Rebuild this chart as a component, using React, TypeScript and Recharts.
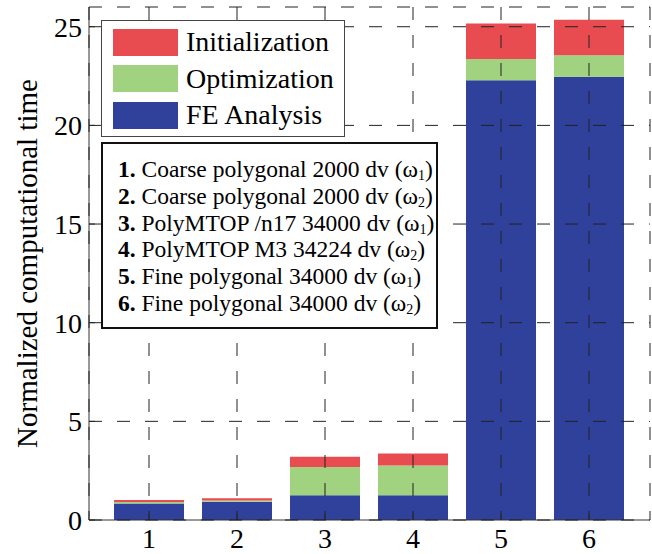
import { BarChart, Bar, XAxis, YAxis, CartesianGrid } from "recharts";

const runs = ["1", "2", "3", "4", "5", "6"];
const feAnalysis = [0.84, 0.92, 1.26, 1.26, 22.29, 22.46];
const optimization = [0.07, 0.07, 1.42, 1.5, 1.08, 1.09];
const initialization = [0.1, 0.11, 0.52, 0.61, 1.8, 1.8];
const yTicks = [0, 5, 10, 15, 20, 25];

const seriesNames = ["Initialization", "Optimization", "FE Analysis"];
const seriesColors = ["#e84c50", "#a0d27f", "#2f419b"];

const caseNames = [
  "Coarse polygonal 2000 dv",
  "Coarse polygonal 2000 dv",
  "PolyMTOP /n17 34000 dv",
  "PolyMTOP M3 34224 dv",
  "Fine polygonal 34000 dv",
  "Fine polygonal 34000 dv",
];
const caseDomains = ["1", "2", "1", "2", "1", "2"];

const data = runs.map((run, i) => ({
  run,
  fe: feAnalysis[i],
  opt: optimization[i],
  init: initialization[i],
}));

const serif = "Liberation Serif, Tinos, Times New Roman, DejaVu Serif, serif";
const tickStyle = { fill: "#000", fontSize: 28, fontFamily: serif };
const axisColor = "#333";

function YTitle({ viewBox }: { viewBox?: { x: number; y: number; width: number; height: number } }) {
  if (!viewBox) return null;
  const cx = 27;
  const cy = viewBox.y + viewBox.height / 2;
  return (
    <text
      x={cx}
      y={cy}
      transform={`rotate(-90 ${cx} ${cy})`}
      textAnchor="middle"
      dominantBaseline="central"
      fontFamily={serif}
      fontSize={29}
      fill="#000"
    >
      Normalized computational time
    </text>
  );
}

export default function App() {
  return (
    <div style={{ position: "absolute", left: 0, top: 0, width: 652, height: 554, background: "#fff", fontFamily: serif }}>
      <BarChart
        width={652}
        height={554}
        data={data}
        margin={{ top: 7, right: 2, left: 0, bottom: 0 }}
        barSize={70}
      >
        <XAxis
          dataKey="run"
          height={34}
          padding={{ left: 16, right: 17 }}
          tick={tickStyle}
          tickSize={-6}
          tickMargin={14}
          tickLine={{ stroke: axisColor }}
          axisLine={{ stroke: axisColor }}
        />
        <XAxis
          xAxisId="top"
          dataKey="run"
          orientation="top"
          height={0}
          padding={{ left: 16, right: 17 }}
          tick={tickStyle}
          tickFormatter={() => ""}
          tickSize={-6}
          tickLine={{ stroke: axisColor }}
          axisLine={{ stroke: "#666" }}
        />
        <YAxis
          domain={[0, 26]}
          ticks={yTicks}
          width={89}
          tick={tickStyle}
          tickSize={-6}
          tickMargin={13}
          tickLine={{ stroke: axisColor }}
          axisLine={{ stroke: axisColor }}
          label={<YTitle />}
        />
        <YAxis
          yAxisId="right"
          orientation="right"
          domain={[0, 26]}
          ticks={yTicks}
          width={0}
          tick={tickStyle}
          tickFormatter={() => ""}
          tickSize={-6}
          tickLine={{ stroke: axisColor }}
          axisLine={{ stroke: "#888" }}
        />
        <Bar dataKey="fe" name="FE Analysis" stackId="t" fill={seriesColors[2]} isAnimationActive={false} />
        <Bar dataKey="opt" name="Optimization" stackId="t" fill={seriesColors[1]} isAnimationActive={false} />
        <Bar dataKey="init" name="Initialization" stackId="t" fill={seriesColors[0]} isAnimationActive={false} />
        <CartesianGrid
          stroke="#222"
          strokeDasharray="13 15"
          fill="none"
          {...({ zIndex: 1000 } as object)}
        />
      </BarChart>

      <div
        style={{
          position: "absolute",
          left: 101,
          top: 20,
          width: 244,
          height: 117,
          border: "1px solid #444",
          background: "#fff",
          fontSize: 28,
          boxSizing: "border-box",
        }}
      >
        {seriesNames.map((name, i) => (
          <div
            key={name}
            style={{ position: "absolute", left: 11, top: 7 + i * 36.5, display: "flex", alignItems: "center", height: 28 }}
          >
            <div style={{ width: 65, height: 27, background: seriesColors[i] }} />
            <span style={{ marginLeft: 8, lineHeight: "28px", whiteSpace: "nowrap" }}>{name}</span>
          </div>
        ))}
      </div>

      <div
        style={{
          position: "absolute",
          left: 101,
          top: 142,
          width: 337,
          height: 187,
          border: "2px solid #111",
          background: "#fff",
          fontSize: 23.5,
          boxSizing: "border-box",
          paddingLeft: 15,
          paddingTop: 12,
        }}
      >
        {caseNames.map((name, i) => (
          <div key={i} style={{ height: 26.8, lineHeight: "26.8px", whiteSpace: "nowrap" }}>
            <b>{runs[i]}.</b> {name} (ω
            <span style={{ fontSize: 14, lineHeight: "14px", position: "relative", top: 3 }}>{caseDomains[i]}</span>)
          </div>
        ))}
      </div>
    </div>
  );
}
